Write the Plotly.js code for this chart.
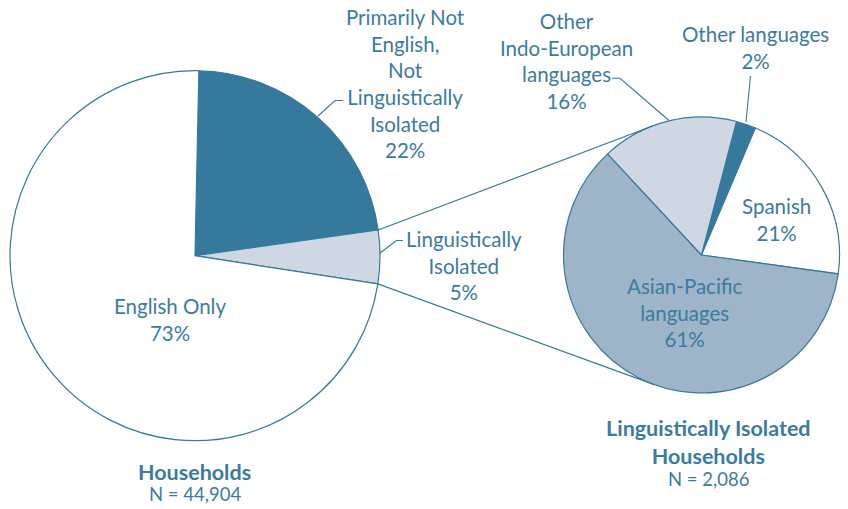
<!DOCTYPE html>
<html>
<head>
<meta charset="utf-8">
<script src="https://cdn.plot.ly/plotly-3.0.1.min.js"></script>
<style>html,body{margin:0;padding:0;background:#fff;}#chart{width:848px;height:509px;}</style>
</head>
<body>
<div id="chart"></div>
<script>
// ---- data ----
const householdLabels = ["Primarily Not English, Not Linguistically Isolated", "Linguistically Isolated", "English Only"];
const householdValues = [22.45, 4.65, 72.9];
const householdColors = ["#35799d", "#cfd8e2", "#ffffff"];

const isolatedLabels = ["Other languages", "Spanish", "Asian-Pacific languages", "Other Indo-European languages"];
const isolatedValues = [2.3, 20.8, 60.9, 16.0];
const isolatedColors = ["#35799d", "#ffffff", "#9db4c9", "#cfd8e2"];

const householdsN = "44,904";
const isolatedN = "2,086";

// ---- layout geometry ----
const W = 848, H = 509;
const leftC = {x: 195, y: 255.7, r: 185};
const rightC = {x: 701.5, y: 255, r: 138};
const leftRot = 1.2, rightRot = 14.7;
const txt = "#3b7ba3";
const lineCol = "#35799d";
const font = "Lato, 'Open Sans', sans-serif";

function dom(c) {
  return {x: [(c.x - c.r) / W, (c.x + c.r) / W], y: [1 - (c.y + c.r) / H, 1 - (c.y - c.r) / H]};
}
const px = x => x / W, py = y => 1 - y / H;

const traces = [
  {type: "pie", labels: householdLabels, values: householdValues, sort: false, direction: "clockwise",
   rotation: leftRot, domain: dom(leftC), textinfo: "none", hoverinfo: "label+percent",
   marker: {colors: householdColors, line: {color: lineCol, width: 1.2}}, showlegend: false},
  {type: "pie", labels: isolatedLabels, values: isolatedValues, sort: false, direction: "clockwise",
   rotation: rightRot, domain: dom(rightC), textinfo: "none", hoverinfo: "label+percent",
   marker: {colors: isolatedColors, line: {color: lineCol, width: 1.2}}, showlegend: false}
];

// connector lines: from the Linguistically Isolated slice edges, tangent to the right pie
const tot = householdValues.reduce((a, b) => a + b, 0);
const a0 = (leftRot + 360 * householdValues[0] / tot) * Math.PI / 180;
const a1 = a0 + 360 * householdValues[1] / tot * Math.PI / 180;
function edgePt(c, ang) { return {x: c.x + c.r * Math.sin(ang), y: c.y - c.r * Math.cos(ang)}; }
function tangent(p, c, side) {
  const dx = c.x - p.x, dy = c.y - p.y, d = Math.hypot(dx, dy);
  const base = Math.atan2(dy, dx), off = Math.asin(c.r / d) * side;
  const L = Math.sqrt(d * d - c.r * c.r), ang = base + off;
  return {x: p.x + L * Math.cos(ang), y: p.y + L * Math.sin(ang)};
}
const pTop = edgePt(leftC, a0), pBot = edgePt(leftC, a1);
const tTop = tangent(pTop, rightC, -1), tBot = tangent(pBot, rightC, 1);

function seg(p, q) {
  return {type: "line", xref: "paper", yref: "paper", x0: px(p.x), y0: py(p.y), x1: px(q.x), y1: py(q.y),
          line: {color: lineCol, width: 1.2}};
}
function poly(pts) {
  let d = "M" + pts.map(p => px(p[0]) + "," + py(p[1])).join(" L");
  return {type: "path", xref: "paper", yref: "paper", path: d, line: {color: lineCol, width: 1.1}};
}

const shapes = [
  seg(pTop, tTop), seg(pBot, tBot),
  poly([[318, 116], [335, 100.5], [343, 100.5]]),
  poly([[380, 253], [396.5, 240.5], [403, 240.5]]),
  poly([[612, 78.3], [620, 78.3], [669, 120.5]]),
  poly([[750.5, 76], [746, 122]])
];

function ann(text, x, y, size, bold) {
  return {text: bold ? "<b>" + text + "</b>" : text, x: px(x), y: py(y), xref: "paper", yref: "paper",
          xanchor: "center", yanchor: "middle", showarrow: false, align: "center",
          font: {family: font, size: size, color: txt}};
}
const S = 20.5;
const annotations = [
  ann("Primarily Not<br>English,<br>Not<br>Linguistically<br>Isolated<br>22%", 405, 83.5, S),
  ann("Linguistically<br>Isolated<br>5%", 464, 265.5, S),
  ann("English Only<br>73%", 170, 319, S),
  ann("Other<br>Indo-European<br>languages<br>16%", 566, 61.5, S),
  ann("Other languages<br>2%", 755, 48, S),
  ann("Spanish<br>21%", 776, 219.5, S),
  ann("Asian-Pacific<br>languages<br>61%", 685, 312.7, S),
  ann("Households", 194, 472, 21.5, true),
  ann("N = " + householdsN, 195, 494, 18.5),
  ann("Linguistically Isolated<br>Households", 708, 442, 21.5, true),
  ann("N = " + isolatedN, 708, 479, 18.5)
];

const layout = {
  width: W, height: H, margin: {l: 0, r: 0, t: 0, b: 0},
  paper_bgcolor: "#ffffff", plot_bgcolor: "#ffffff",
  showlegend: false, shapes: shapes, annotations: annotations,
  font: {family: font, color: txt}
};
Plotly.newPlot("chart", traces, layout, {displayModeBar: false, staticPlot: true});
</script>
</body>
</html>
